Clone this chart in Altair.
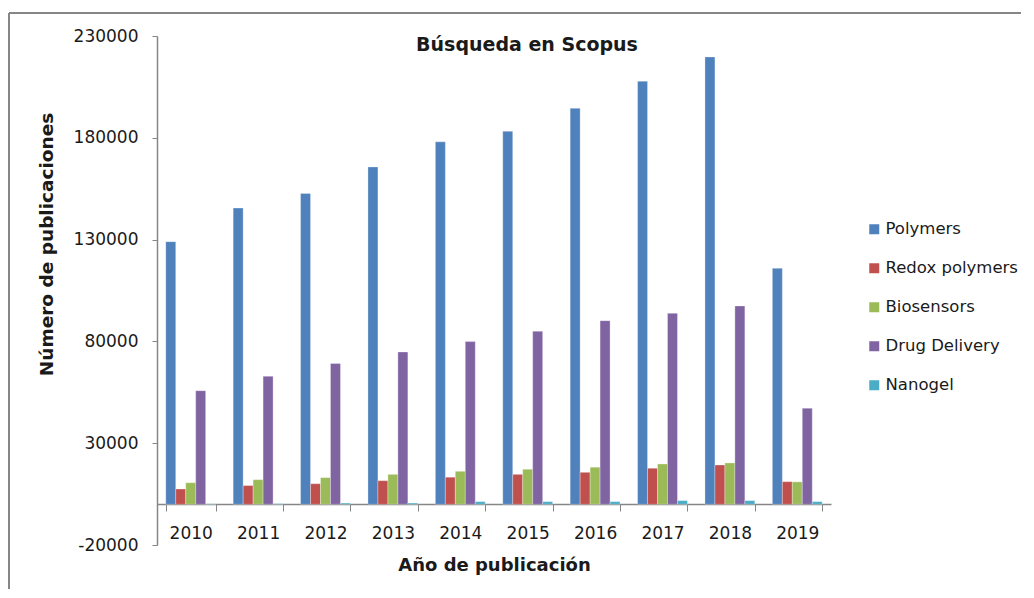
import altair as alt
import pandas as pd

years = ["2010", "2011", "2012", "2013", "2014", "2015", "2016", "2017", "2018", "2019"]
series = ["Polymers", "Redox polymers", "Biosensors", "Drug Delivery", "Nanogel"]
colors = ["#4F81BD", "#C0504D", "#9BBB59", "#8064A2", "#4BACC6"]

polymers = [129000, 145500, 152700, 165700, 178000, 183200, 194500, 207800, 219700, 115900]
redox = [7500, 9200, 10100, 11600, 13300, 14700, 15700, 17700, 19300, 11100]
biosensors = [10600, 12100, 13100, 14700, 16200, 17200, 18200, 19800, 20300, 11000]
drug_delivery = [55800, 62900, 69100, 74800, 79900, 85000, 90200, 93800, 97400, 47200]
nanogel = [200, 300, 600, 600, 1300, 1300, 1300, 1800, 1800, 1300]

y_ticks = [-20000, 30000, 80000, 130000, 180000, 230000]
chart_title = "Búsqueda en Scopus"

values_by_series = [polymers, redox, biosensors, drug_delivery, nanogel]
rows = []
for s, vals in zip(series, values_by_series):
    for yr, v in zip(years, vals):
        rows.append({"Año": yr, "Serie": s, "Valor": v})
df = pd.DataFrame(rows)

FONT = "DejaVu Sans"
TEXT = "#1a1a1a"
GRAY = "#868686"

bars = alt.Chart(df).mark_bar(stroke="white", strokeWidth=0.6, strokeOpacity=0.5).encode(
    x=alt.X(
        "Año:N",
        sort=years,
        scale=alt.Scale(paddingInner=0.26, paddingOuter=0.13),
        axis=alt.Axis(
            title="Año de publicación",
            titleFont=FONT, titleFontSize=18, titleFontWeight="bold", titleColor=TEXT,
            titleY=61, titleBaseline="middle",
            labelFont=FONT, labelFontSize=17, labelColor=TEXT, labelAngle=0, labelPadding=14,
            tickBand="extent", tickSize=7, tickColor=GRAY, domainColor=GRAY, domainWidth=1.5,
            offset=-41,
        ),
    ),
    xOffset=alt.XOffset("Serie:N", sort=series, scale=alt.Scale(paddingInner=0, paddingOuter=0)),
    y=alt.Y(
        "Valor:Q",
        scale=alt.Scale(domain=[-20000, 230000], nice=False, zero=False),
        axis=alt.Axis(
            title="Número de publicaciones",
            titleFont=FONT, titleFontSize=18.5, titleFontWeight="bold", titleColor=TEXT,
            titleX=-111, titleY=208, titleAlign="center", titleBaseline="middle", titleAngle=270,
            values=y_ticks, labelExpr="toString(datum.value)",
            labelFont=FONT, labelFontSize=17, labelColor=TEXT, labelPadding=14,
            tickSize=5, tickColor=GRAY, domainColor=GRAY, domainWidth=1.5, grid=False,
        ),
    ),
    color=alt.Color(
        "Serie:N",
        sort=series,
        scale=alt.Scale(domain=series, range=colors),
        legend=alt.Legend(
            title=None, orient="none", legendX=709, legendY=185,
            symbolType="square", symbolSize=100, symbolStrokeWidth=0,
            labelFont=FONT, labelFontSize=16.5, labelColor=TEXT, labelOffset=3,
            rowPadding=22,
        ),
    ),
)

one = pd.DataFrame({"k": [0]})
title_text = alt.Chart(one).mark_text(
    font=FONT, fontSize=19, fontWeight="bold", color=TEXT, align="center", baseline="middle"
).encode(text=alt.value(chart_title), x=alt.value(370), y=alt.value(9))

frame_top = alt.Chart(one).mark_rule(color=GRAY, strokeWidth=2).encode(
    x=alt.value(-148), x2=alt.value(880), y=alt.value(-23), y2=alt.value(-23)
)
frame_left = alt.Chart(one).mark_rule(color=GRAY, strokeWidth=2).encode(
    x=alt.value(-148), x2=alt.value(-148), y=alt.value(-23), y2=alt.value(570)
)

chart = alt.layer(bars, title_text, frame_top, frame_left).properties(
    width=674,
    height=509,
    background="white",
    autosize=alt.AutoSizeParams(type="none"),
    padding={"left": 149, "top": 28, "right": 190, "bottom": 44},
).configure_view(strokeWidth=0, stroke="transparent")

chart.save("out.html", embed_options={"renderer": "svg", "actions": False})
